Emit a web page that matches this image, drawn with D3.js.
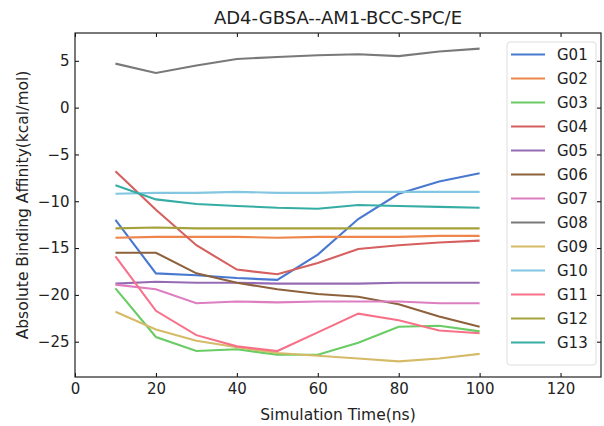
<!DOCTYPE html>
<html>
<head>
<meta charset="utf-8">
<script src="https://cdn.jsdelivr.net/npm/d3@7"></script>
<style>
  body { margin: 0; background: #fff; }
  svg { font-family: "DejaVu Sans", sans-serif; }
</style>
</head>
<body>
<svg id="chart"></svg>
<script>
// simulation times (ns)
var times = [10, 20, 30, 40, 50, 60, 70, 80, 90, 100];
var names = ["G01","G02","G03","G04","G05","G06","G07","G08","G09","G10","G11","G12","G13"];
var colors = ["#4878d0","#ee854a","#6acc64","#d65f5f","#956cb4","#8c613c","#dc7ec0",
              "#797979","#d5bb67","#82c6e2","#f77189","#a6a23b","#36ada4"];

var G01 = [-12.0, -17.7, -17.9, -18.2, -18.4, -15.7, -11.9, -9.2, -7.9, -7.0];
var G02 = [-13.9, -13.8, -13.8, -13.8, -13.9, -13.8, -13.8, -13.8, -13.7, -13.7];
var G03 = [-19.3, -24.5, -26.0, -25.8, -26.4, -26.4, -25.1, -23.4, -23.3, -23.9];
var G04 = [-6.8, -10.9, -14.7, -17.3, -17.8, -16.6, -15.1, -14.7, -14.4, -14.2];
var G05 = [-18.8, -18.6, -18.7, -18.7, -18.8, -18.8, -18.8, -18.7, -18.7, -18.7];
var G06 = [-15.5, -15.5, -17.7, -18.7, -19.4, -19.9, -20.2, -21.0, -22.3, -23.4];
var G07 = [-18.9, -19.4, -20.9, -20.7, -20.8, -20.7, -20.7, -20.7, -20.9, -20.9];
var G08 = [4.7, 3.7, 4.5, 5.2, 5.4, 5.6, 5.7, 5.5, 6.0, 6.3];
var G09 = [-21.8, -23.7, -24.9, -25.6, -26.2, -26.5, -26.8, -27.1, -26.8, -26.3];
var G10 = [-9.2, -9.1, -9.1, -9.0, -9.1, -9.1, -9.0, -9.0, -9.0, -9.0];
var G11 = [-15.9, -21.7, -24.3, -25.5, -26.0, -24.0, -22.0, -22.7, -23.8, -24.1];
var G12 = [-12.9, -12.8, -12.9, -12.9, -12.9, -12.9, -12.9, -12.9, -12.9, -12.9];
var G13 = [-8.3, -9.8, -10.3, -10.5, -10.7, -10.8, -10.4, -10.5, -10.6, -10.7];

var xTicks = [0, 20, 40, 60, 80, 100, 120];
var yTicks = [5, 0, -5, -10, -15, -20, -25];

var series = [G01,G02,G03,G04,G05,G06,G07,G08,G09,G10,G11,G12,G13];

var W = 604, H = 426;
var margin = {left: 75, right: 3, top: 33, bottom: 49};
var iw = W - margin.left - margin.right;
var ih = H - margin.top - margin.bottom;

var svg = d3.select("#chart").attr("width", W).attr("height", H);

var x = d3.scaleLinear().domain([0, 130]).range([0, iw]);
var y = d3.scaleLinear().domain([-28.77, 7.97]).range([ih, 0]);

var g = svg.append("g").attr("transform", "translate(" + margin.left + "," + margin.top + ")");

var fmt = function(d){ return d < 0 ? "\u2212" + Math.abs(d) : "" + d; };

// axes, ticks inward on all sides
var axB = g.append("g").attr("transform", "translate(0," + ih + ")")
  .call(d3.axisBottom(x).tickValues(xTicks).tickSizeInner(-4).tickSizeOuter(0).tickPadding(6));
var axT = g.append("g")
  .call(d3.axisTop(x).tickValues(xTicks).tickSizeInner(-4).tickSizeOuter(0).tickFormat(""));
var axL = g.append("g")
  .call(d3.axisLeft(y).tickValues(yTicks).tickSizeInner(-4).tickSizeOuter(0).tickPadding(5.5).tickFormat(fmt));
var axR = g.append("g").attr("transform", "translate(" + iw + ",0)")
  .call(d3.axisRight(y).tickValues(yTicks).tickSizeInner(-4).tickSizeOuter(0).tickFormat(""));

[axB, axT, axL, axR].forEach(function(a){
  a.selectAll("path").remove();
  a.selectAll("line").attr("stroke", "#000").attr("stroke-width", 1);
  a.selectAll("text").attr("font-size", 15).attr("fill", "#222")
    .attr("font-family", "DejaVu Sans");
});

var line = d3.line()
  .x(function(d, i){ return x(times[i]); })
  .y(function(d){ return y(d); });

series.forEach(function(s, k){
  g.append("path")
    .datum(s)
    .attr("fill", "none")
    .attr("stroke", colors[k])
    .attr("stroke-width", 2.1)
    .attr("d", line);
});

// frame
g.append("rect").attr("width", iw).attr("height", ih)
  .attr("fill", "none").attr("stroke", "#222").attr("stroke-width", 1.2);

// title and labels
svg.append("text").attr("x", margin.left + iw / 2).attr("y", 24)
  .attr("text-anchor", "middle").attr("font-size", 18).attr("fill", "#222")
  .text("AD4-GBSA--AM1-BCC-SPC/E");
svg.append("text").attr("x", margin.left + iw / 2).attr("y", 420)
  .attr("text-anchor", "middle").attr("font-size", 15.5).attr("fill", "#222")
  .text("Simulation Time(ns)");
svg.append("text")
  .attr("transform", "translate(28," + (margin.top + ih / 2) + ") rotate(-90)")
  .attr("text-anchor", "middle").attr("font-size", 15.5).attr("fill", "#222")
  .text("Absolute Binding Affinity(kcal/mol)");

// legend
var lg = svg.append("g").attr("transform", "translate(507,42)");
lg.append("rect").attr("width", 89).attr("height", 323).attr("rx", 3)
  .attr("fill", "#fff").attr("fill-opacity", 0.8)
  .attr("stroke", "#ddd").attr("stroke-width", 1);
names.forEach(function(n, k){
  var yy = 12.5 + k * 24;
  lg.append("line").attr("x1", 4).attr("x2", 38).attr("y1", yy).attr("y2", yy)
    .attr("stroke", colors[k]).attr("stroke-width", 2.1);
  lg.append("text").attr("x", 50).attr("y", yy + 5.5).attr("font-size", 15)
    .attr("fill", "#222").text(n);
});
</script>
</body>
</html>
